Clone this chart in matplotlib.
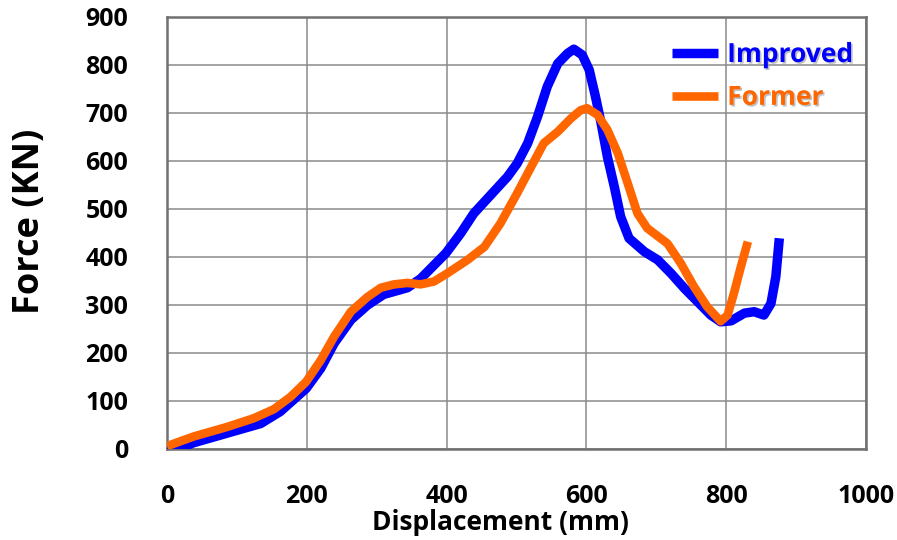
import matplotlib
matplotlib.use("Agg")
import matplotlib.pyplot as plt
import matplotlib.patheffects as pe

# Improved design (blue)
improved_x = [0, 20, 38, 86, 134, 162, 199, 220, 239, 263, 287, 310, 344, 363, 382,
              399, 420, 439, 463, 487, 501, 516, 530, 544, 559, 573, 582, 594, 604,
              613, 621, 630, 640, 649, 661, 683, 702, 721, 740, 759, 778, 792, 807,
              826, 840, 854, 864, 871, 876]
improved_y = [0, 2, 13, 33, 53, 78, 126, 168, 220, 269, 300, 322, 336, 355, 383,
              408, 449, 491, 529, 567, 595, 637, 692, 755, 803, 824, 833, 821, 790,
              734, 679, 609, 546, 484, 439, 411, 394, 366, 335, 307, 279, 265, 267,
              283, 286, 279, 303, 359, 439]

# Former design (orange)
former_x = [0, 38, 86, 124, 153, 177, 199, 220, 239, 263, 287, 306, 325, 344, 363,
            382, 401, 430, 454, 477, 501, 521, 539, 559, 578, 592, 601, 616, 630,
            645, 659, 673, 687, 697, 716, 735, 754, 773, 792, 802, 811, 821, 831]
former_y = [6, 26, 46, 64, 83, 109, 140, 185, 234, 286, 317, 336, 343, 346, 343,
            349, 366, 394, 421, 470, 533, 588, 637, 661, 689, 706, 710, 696, 665,
            616, 554, 491, 460, 449, 428, 387, 338, 296, 266, 279, 324, 380, 432]

series_names = ["Improved", "Former"]
series_colors = ["#0000FF", "#FF6600"]

plt.rcParams["font.family"] = ["Open Sans", "DejaVu Sans"]
plt.rcParams["font.weight"] = "bold"

fig = plt.figure(figsize=(8.97, 5.40), dpi=100)
ax = fig.add_axes([167 / 897, 1 - 449 / 540, 699 / 897, 432 / 540])

ax.plot(improved_x, improved_y, color=series_colors[0], lw=6.8,
        solid_capstyle="butt", solid_joinstyle="round", label=series_names[0], zorder=3)
ax.plot(former_x, former_y, color=series_colors[1], lw=6.2,
        solid_capstyle="butt", solid_joinstyle="round", label=series_names[1], zorder=4)

ax.set_xlim(0, 1000)
ax.set_ylim(0, 900)
ax.set_xticks(range(0, 1001, 200))
ax.set_yticks(range(0, 901, 100))
ax.tick_params(axis="x", length=0, pad=25, labelsize=18)
ax.tick_params(axis="y", length=0, pad=28, labelsize=18)
for lab in ax.get_xticklabels() + ax.get_yticklabels():
    lab.set_fontweight("bold")

ax.grid(True, color="#8a8a8a", lw=1.1)
for side in ax.spines.values():
    side.set_color("#707070")
    side.set_linewidth(1.8)

leg = ax.legend(loc="upper right", bbox_to_anchor=(1.0, 0.975), frameon=False,
                handlelength=1.75, handletextpad=0.35, labelspacing=0.6,
                prop={"size": 19, "weight": "bold"}, borderaxespad=0.1)
for txt, col in zip(leg.get_texts(), series_colors):
    txt.set_color(col)
    txt.set_path_effects([pe.withSimplePatchShadow(offset=(1.2, -1.2),
                                                   shadow_rgbFace="#999999", alpha=0.6)])

fig.text(30 / 897, 1 - 221 / 540, "Force (KN)", rotation=90, ha="center",
         va="center", fontsize=26, fontweight="bold")
fig.text(500 / 897, 1 - 523 / 540, "Displacement (mm)", ha="center",
         va="center", fontsize=19, fontweight="bold")

fig.savefig("out.png", dpi=100)
